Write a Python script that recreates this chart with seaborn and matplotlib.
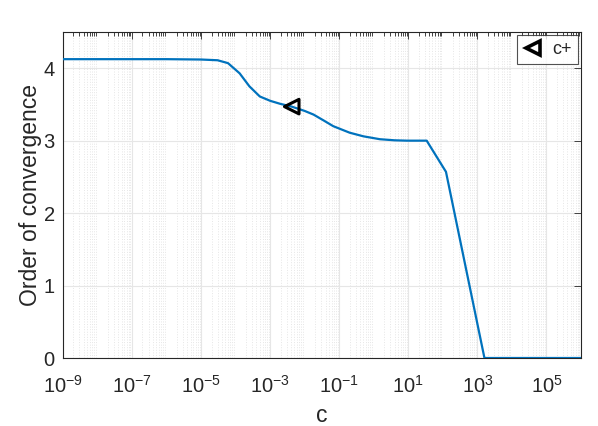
import numpy as np
import pandas as pd
import matplotlib
matplotlib.use("Agg")
import matplotlib.pyplot as plt
import seaborn as sns
from matplotlib.ticker import LogLocator, NullFormatter

# Data
c_values = [1e-9, 1e-8, 1e-7, 1e-6, 1e-5, 3e-5, 6e-5, 1.3e-4, 2.5e-4, 5e-4,
            1e-3, 1.9e-3, 4.2e-3, 1e-2, 1.8e-2, 3.5e-2, 6.7e-2, 0.2, 0.5,
            1.5, 4.0, 9.0, 34.0, 123.0, 1600.0, 1e4, 1e5, 1e6]
order_values = [4.125, 4.125, 4.125, 4.125, 4.12, 4.11, 4.07, 3.93, 3.75, 3.61,
                3.55, 3.51, 3.47, 3.41, 3.36, 3.28, 3.20, 3.11, 3.06,
                3.02, 3.005, 3.0, 3.0, 2.57, 0.0, 0.0, 0.0, 0.0]
marker_c = [4.2e-3]
marker_order = [3.47]
legend_label = "c+"

df = pd.DataFrame({"c": c_values, "order": order_values})
dm = pd.DataFrame({"c": marker_c, "order": marker_order})

sns.set_style("white")
plt.rcParams['font.family'] = ['Liberation Sans', 'DejaVu Sans']
plt.rcParams['mathtext.fontset'] = 'custom'
plt.rcParams['mathtext.rm'] = 'Liberation Sans'
plt.rcParams['mathtext.it'] = 'Liberation Sans'
plt.rcParams['mathtext.bf'] = 'Liberation Sans'

fig = plt.figure(figsize=(5.98, 4.26), dpi=100)
ax = fig.add_axes([63/598, 1-358/426, (581-63)/598, (358-32)/426])

sns.lineplot(data=df, x="c", y="order", ax=ax, color="#0072BD", linewidth=1.6,
             zorder=3)
sns.scatterplot(data=dm, x="c", y="order", ax=ax, marker="<", s=110,
                facecolor="none", edgecolor="black", linewidth=2.2, zorder=4)

ax.set_xscale("log")
ax.set_xlim(1e-9, 1e6)
ax.set_ylim(0, 4.5)
ax.set_xticks([1e-9, 1e-7, 1e-5, 1e-3, 1e-1, 1e1, 1e3, 1e5])
ax.xaxis.set_minor_locator(LogLocator(base=10, subs=np.arange(2, 10), numticks=100))
ax.xaxis.set_minor_formatter(NullFormatter())
ax.set_yticks([0, 1, 2, 3, 4])

ax.grid(True, which="major", color="#e6e6e6", linewidth=0.8)
ax.grid(True, which="minor", axis="x", color="#e6e6e6", linestyle=":", linewidth=0.7)
ax.set_axisbelow(True)

for s in ax.spines.values():
    s.set_color("#262626")
    s.set_linewidth(0.8)
ax.tick_params(which="both", direction="in", top=True, right=True,
               colors="#262626", labelsize=14.5, width=0.6)
ax.tick_params(which="major", length=5)
ax.tick_params(which="minor", length=3)
ax.tick_params(axis="x", which="major", pad=12)
ax.tick_params(axis="y", which="major", pad=6)

ax.set_xlabel("c", fontsize=16.5, color="#262626", labelpad=5)
ax.set_ylabel("Order of convergence", fontsize=16.5, color="#262626")
ax.yaxis.set_label_coords(-0.0405, 0.5)

handle = plt.Line2D([], [], marker="<", linestyle="none", markersize=10,
                    markerfacecolor="none", markeredgecolor="black",
                    markeredgewidth=2.6)
leg = ax.legend([handle], [legend_label], loc="upper right", fontsize=13,
                frameon=True, fancybox=False, handlelength=1.0,
                handletextpad=0.6, borderpad=0.35, borderaxespad=0.15)
leg.get_frame().set_edgecolor("#262626")
leg.get_frame().set_linewidth(0.8)

fig.savefig("out.png", dpi=100)
